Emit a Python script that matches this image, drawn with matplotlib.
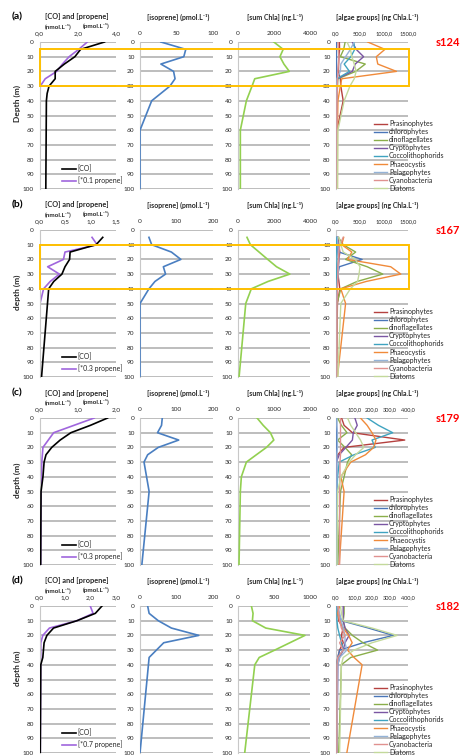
import matplotlib
matplotlib.use('Agg')
import matplotlib.pyplot as plt
from matplotlib.patches import Rectangle

plt.rcParams['font.family'] = ['Lato', 'DejaVu Sans']

# ---------------- DATA ----------------
STATIONS = ['s124', 's167', 's179', 's182']
ROW_TAGS = ['(a)', '(b)', '(c)', '(d)']
DEPTH_LABELS = ['Depth (m)', 'depth (m)', 'depth (m)', 'depth (m)']
PROPENE_LABELS = ['[*0.1 propene]', '[*0.3 propene]', '[*0.3 propene]', '[*0.7 propene]']
BOX_DEPTHS = [(4.5, 30), (10, 40), None, None]

GROUPS = ['Prasinophytes', 'chlorophytes', 'dinoflagellates', 'Cryptophytes',
          'Coccolithophorids', 'Phaeocystis', 'Pelagophytes', 'Cyanobacteria', 'Diatoms']

# station a (s124)
a_co_depth = [0, 5, 10, 15, 20, 25, 30, 35, 40, 60, 100]
a_co = [3.4, 2.15, 1.85, 1.3, 0.82, 0.82, 0.5, 0.4, 0.36, 0.35, 0.33]
a_pr_depth = [0, 5, 10, 15, 20, 25, 30, 40, 60, 100]
a_pr = [2.5, 2.05, 1.55, 1.2, 0.9, 0.3, 0.04, 0.02, 0.02, 0.02]
a_iso_depth = [0, 5, 10, 15, 20, 25, 30, 40, 60, 100]
a_iso = [28.6, 62.7, 60, 28.6, 46, 48, 41, 16, 0, 0]
a_chl_depth = [0, 5, 10, 15, 20, 25, 30, 40, 60, 100]
a_chl = [1990, 2510, 2330, 2550, 2850, 930, 780, 465, 130, 130]
a_prasino = [70, 75, 60, 55, 50, 90, 100, 150, 20, 15]
a_chloro = [10, 10, 10, 10, 15, 10, 10, 10, 10, 10]
a_dino = [190, 160, 90, 610, 410, 40, 30, 20, 15, 10]
a_crypto = [340, 420, 575, 400, 340, 30, 20, 10, 10, 10]
a_cocco = [370, 390, 310, 170, 280, 20, 20, 20, 15, 10]
a_phaeo = [660, 1020, 840, 870, 1260, 120, 90, 40, 30, 30]
a_pelago = [380, 300, 200, 100, 90, 20, 15, 10, 10, 10]
a_cyano = [40, 50, 60, 50, 40, 30, 30, 20, 20, 20]
a_diatoms = [230, 300, 330, 380, 420, 380, 290, 170, 40, 30]

# station b (s167)
b_co_depth = [5, 10, 15, 20, 25, 30, 35, 40, 100]
b_co = [1.24, 1.11, 0.6, 0.59, 0.5, 0.44, 0.28, 0.18, 0.04]
b_pr_depth = [5, 10, 15, 20, 25, 30, 35, 40, 50, 100]
b_pr = [1.03, 1.13, 0.5, 0.47, 0.16, 0.39, 0.21, 0.08, 0.01, 0.0]
b_iso_depth = [5, 10, 15, 20, 25, 30, 35, 40, 50, 100]
b_iso = [24.5, 32, 86, 112, 64, 70, 41, 24.5, 0, 0]
b_chl_depth = [5, 10, 15, 20, 25, 30, 35, 40, 50, 100]
b_chl = [500, 690, 1170, 1650, 2140, 2880, 1670, 740, 430, 60]
b_prasino = [40, 60, 80, 60, 50, 40, 60, 80, 30, 10]
b_chloro = [20, 40, 60, 545, 70, 40, 30, 20, 10, 5]
b_dino = [50, 150, 410, 200, 650, 975, 440, 100, 20, 10]
b_crypto = [30, 30, 40, 60, 40, 30, 20, 20, 10, 5]
b_cocco = [10, 10, 15, 20, 15, 10, 10, 10, 5, 5]
b_phaeo = [160, 120, 330, 240, 1140, 1350, 630, 100, 200, 30]
b_pelago = [30, 40, 50, 60, 50, 40, 30, 20, 10, 5]
b_cyano = [150, 80, 60, 50, 40, 40, 30, 30, 20, 20]
b_diatoms = [60, 100, 150, 400, 500, 480, 450, 300, 100, 40]

# station c (s179)
c_co_depth = [0, 5, 10, 15, 20, 25, 30, 40, 50, 100]
c_co = [1.78, 1.33, 0.82, 0.54, 0.32, 0.17, 0.12, 0.09, 0.04, 0.03]
c_pr_depth = [0, 10, 20, 30, 50, 100]
c_pr = [1.43, 0.37, 0.09, 0.06, 0.04, 0.03]
c_iso_depth = [0, 5, 10, 15, 20, 25, 30, 40, 50, 100]
c_iso = [61, 59, 48, 106, 50, 21, 11, 18, 25, 5]
c_chl_depth = [0, 5, 10, 15, 20, 25, 30, 40, 50, 100]
c_chl = [530, 700, 900, 995, 790, 510, 233, 93, 65, 28]
c_prasino = [31, 45, 91, 382, 45, 10, 2, 3, 5, 5]
c_chloro = [2, 2, 2, 2, 2, 2, 2, 2, 2, 2]
c_dino = [9, 30, 61, 9, 50, 87, 64, 45, 25, 10]
c_crypto = [105, 118, 96, 91, 55, 18, 2, 3, 3, 3]
c_cocco = [173, 236, 315, 200, 218, 100, 18, 9, 5, 5]
c_phaeo = [136, 173, 200, 222, 209, 164, 82, 27, 45, 18]
c_pelago = [5, 5, 8, 8, 8, 5, 5, 5, 5, 5]
c_cyano = [25, 25, 25, 25, 25, 25, 22, 22, 20, 20]
c_diatoms = [64, 82, 109, 136, 155, 109, 73, 27, 9, 5]

# station d (s182)
d_co_depth = [0, 5, 10, 15, 20, 25, 35, 40, 100]
d_co = [2.45, 2.19, 1.47, 0.55, 0.29, 0.18, 0.13, 0.05, 0.03]
d_pr_depth = [0, 5, 10, 15, 20, 25, 100]
d_pr = [1.99, 2.1, 1.47, 0.39, 0.13, 0.05, 0.03]
d_iso_depth = [0, 5, 10, 15, 20, 25, 35, 100]
d_iso = [21, 25, 50, 86, 161, 65, 25, 0]
d_chl_depth = [0, 5, 10, 15, 20, 25, 30, 35, 40, 100]
d_chl = [186, 209, 200, 386, 930, 720, 510, 295, 233, 93]
d_prasino = [15, 10, 15, 40, 30, 40, 20, 10, 5, 3]
d_chloro = [10, 15, 30, 180, 318, 150, 20, 10, 5, 3]
d_dino = [45, 45, 40, 50, 91, 150, 231, 82, 30, 15]
d_crypto = [40, 40, 40, 50, 73, 50, 40, 20, 10, 5]
d_cocco = [5, 5, 5, 10, 20, 30, 40, 10, 5, 3]
d_phaeo = [20, 10, 20, 40, 70, 90, 64, 100, 145, 60]
d_pelago = [10, 20, 30, 40, 50, 50, 60, 20, 10, 5]
d_cyano = [10, 15, 20, 30, 50, 20, 40, 10, 5, 5]
d_diatoms = [25, 30, 40, 200, 340, 200, 100, 40, 30, 20]

# axis ticks
co_ticks = [[0, 2, 4], [0, 0.5, 1.0, 1.5], [0, 1, 2], [0, 1, 2, 3]]
co_ticklabels = [['0,0', '2,0', '4,0'], ['0,0', '0,5', '1,0', '1,5'],
                 ['0,0', '1,0', '2,0'], ['0,0', '1,0', '2,0', '3,0']]
iso_ticks = [[0, 50, 100], [0, 100, 200], [0, 100, 200], [0, 100, 200]]
chl_ticks = [[0, 2000, 4000], [0, 2000, 4000], [0, 1000, 2000], [0, 500, 1000]]
alg_ticks = [[0, 500, 1000, 1500], [0, 500, 1000, 1500],
             [0, 100, 200, 300, 400], [0, 100, 200, 300, 400]]
alg_ticklabels = [['0,0', '500,0', '1000,0', '1500,0'], ['0,0', '500,0', '1000,0', '1500,0'],
                  ['0,0', '100,0', '200,0', '300,0', '400,0'], ['0,0', '100,0', '200,0', '300,0', '400,0']]

# ---------------- STYLE ----------------
GROUP_COLORS = ['#b5413f', '#4a76b8', '#8aae4a', '#7a56a3', '#3fa3c0',
                '#f08a3a', '#95b3d7', '#e0918f', '#c3d99b']
CO_COLOR = '#000000'
PR_COLOR = '#a066dd'
ISO_COLOR = '#4a7fc1'
CHL_COLOR = '#92d050'
GRID_COLOR = '#b2b2b2'
TXT = '#262626'

W, H = 461, 756
fig = plt.figure(figsize=(W / 100, H / 100), dpi=100)
fig.patch.set_facecolor('white')

ROW_TOPS = [42, 230, 418, 606]
AX_H = 147
COL_X = [(39.5, 116), (140, 213), (238, 310), (336, 408)]


def add_ax(x0, x1, ytop):
    return fig.add_axes([x0 / W, 1 - (ytop + AX_H) / H, (x1 - x0) / W, AX_H / H])


def style(ax, ticks, labels, xsize=4.6):
    ax.set_xlim(ticks[0], ticks[-1])
    ax.set_ylim(100, 0)
    ax.xaxis.tick_top()
    ax.set_xticks(ticks)
    ax.set_xticklabels(labels)
    ax.set_yticks(range(0, 101, 10))
    ax.tick_params(axis='x', labelsize=xsize, length=0, pad=4.2, colors=TXT)
    ax.tick_params(axis='y', labelsize=4.6, length=0, pad=4.0, colors=TXT)
    for s in ['right', 'bottom', 'top']:
        ax.spines[s].set_visible(False)
    ax.spines['left'].set_color('#c8c8c8')
    ax.spines['left'].set_linewidth(0.8)
    ax.grid(axis='y', color=GRID_COLOR, lw=1.2)
    ax.grid(axis='x', visible=False)
    ax.set_axisbelow(True)
    ax.patch.set_alpha(0)


all_data = {
    'a': (a_co_depth, a_co, a_pr_depth, a_pr, a_iso_depth, a_iso, a_chl_depth, a_chl,
          [a_prasino, a_chloro, a_dino, a_crypto, a_cocco, a_phaeo, a_pelago, a_cyano, a_diatoms]),
    'b': (b_co_depth, b_co, b_pr_depth, b_pr, b_iso_depth, b_iso, b_chl_depth, b_chl,
          [b_prasino, b_chloro, b_dino, b_crypto, b_cocco, b_phaeo, b_pelago, b_cyano, b_diatoms]),
    'c': (c_co_depth, c_co, c_pr_depth, c_pr, c_iso_depth, c_iso, c_chl_depth, c_chl,
          [c_prasino, c_chloro, c_dino, c_crypto, c_cocco, c_phaeo, c_pelago, c_cyano, c_diatoms]),
    'd': (d_co_depth, d_co, d_pr_depth, d_pr, d_iso_depth, d_iso, d_chl_depth, d_chl,
          [d_prasino, d_chloro, d_dino, d_crypto, d_cocco, d_phaeo, d_pelago, d_cyano, d_diatoms]),
}

for r, key in enumerate(['a', 'b', 'c', 'd']):
    co_d, co_v, pr_d, pr_v, iso_d, iso_v, chl_d, chl_v, groups = all_data[key]
    top = ROW_TOPS[r]
    ax1 = add_ax(*COL_X[0], top)
    ax2 = add_ax(*COL_X[1], top)
    ax3 = add_ax(*COL_X[2], top)
    ax4 = add_ax(*COL_X[3], top)
    style(ax1, co_ticks[r], co_ticklabels[r])
    style(ax2, iso_ticks[r], [str(t) for t in iso_ticks[r]])
    style(ax3, chl_ticks[r], [str(t) for t in chl_ticks[r]])
    style(ax4, alg_ticks[r], alg_ticklabels[r], xsize=4.1)

    ax1.plot(co_v, co_d, color=CO_COLOR, lw=1.2, label='[CO]', zorder=3)
    ax1.plot(pr_v, pr_d, color=PR_COLOR, lw=1.2, label=PROPENE_LABELS[r], zorder=2)
    ax2.plot(iso_v, iso_d, color=ISO_COLOR, lw=1.2, zorder=3)
    ax3.plot(chl_v, chl_d, color=CHL_COLOR, lw=1.2, zorder=3)
    for g, vals, col in zip(GROUPS, groups, GROUP_COLORS):
        ax4.plot(vals, chl_d, color=col, lw=1.0, label=g, zorder=3)

    # legends
    ax1.legend(loc='upper left', bbox_to_anchor=(62 / W, 1 - (top + 123) / H),
               bbox_transform=fig.transFigure, frameon=False, fontsize=5,
               handlelength=2.0, handletextpad=0.25, labelspacing=0.6,
               borderpad=0, borderaxespad=0, labelcolor=TXT)
    ax4.legend(loc='upper left', bbox_to_anchor=(374 / W, 1 - (top + 78) / H),
               bbox_transform=fig.transFigure, frameon=False, fontsize=5,
               handlelength=1.9, handletextpad=0.25, labelspacing=0.16,
               borderpad=0, borderaxespad=0, labelcolor=TXT)

    # titles
    fig.text(77 / W, 1 - (top - 25) / H, '[CO] and [propene]', ha='center', va='center',
             fontsize=5.3, fontweight='bold', color=TXT)
    fig.text(58 / W, 1 - (top - 16) / H, '(nmol.L⁻¹)', ha='center', va='center',
             fontsize=4.6, fontweight='bold', color=TXT)
    fig.text(96 / W, 1 - (top - 16) / H, '(pmol.L⁻¹)', ha='center', va='center',
             fontsize=4.6, fontweight='bold', color=TXT)
    fig.text(178 / W, 1 - (top - 25) / H, '[isoprene] (pmol.L⁻¹)', ha='center', va='center',
             fontsize=5.0, fontweight='bold', color=TXT)
    fig.text(275 / W, 1 - (top - 25) / H, '[sum Chla] (ng.L⁻¹)', ha='center', va='center',
             fontsize=5.0, fontweight='bold', color=TXT)
    fig.text(377 / W, 1 - (top - 25) / H, '[algae groups] (ng Chla.L⁻¹)', ha='center', va='center',
             fontsize=5.0, fontweight='bold', color=TXT)
    fig.text(17 / W, 1 - (top - 25) / H, ROW_TAGS[r], ha='center', va='center',
             fontsize=7.5, fontweight='bold', color='#000000')
    fig.text(448 / W, 1 - top / H, STATIONS[r], ha='center', va='center',
             fontsize=8, fontweight='bold', color='#ff0000')
    fig.text(17 / W, 1 - (top + 62) / H, DEPTH_LABELS[r], ha='center', va='center',
             rotation=90, fontsize=6, fontweight='bold', color=TXT)

    # highlight boxes
    if BOX_DEPTHS[r] is not None:
        d0, d1 = BOX_DEPTHS[r]
        inv = fig.transFigure.inverted()
        xl, y0 = inv.transform(ax1.transData.transform((co_ticks[r][0], d0)))
        xr, y1 = inv.transform(ax4.transData.transform((alg_ticks[r][-1], d1)))
        rect = Rectangle((xl, y1), xr - xl + 1 / W, y0 - y1, transform=fig.transFigure,
                         fill=False, edgecolor='#ffc000', lw=1.4, zorder=10)
        fig.patches.append(rect)

fig.savefig('out.png', dpi=100, facecolor='white')
